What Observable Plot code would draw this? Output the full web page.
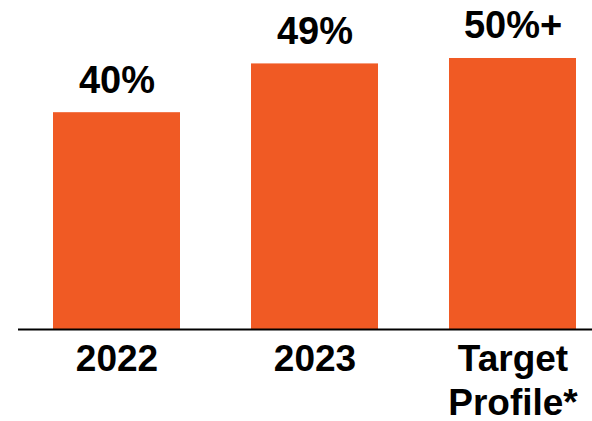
<!DOCTYPE html>
<html>
<head>
<meta charset="utf-8">
<script src="https://cdn.jsdelivr.net/npm/d3@7"></script>
<script src="https://cdn.jsdelivr.net/npm/@observablehq/plot@0.6"></script>
<style>
  html, body { margin: 0; padding: 0; background: #fff; }
  #chart svg { font-family: "Liberation Sans", Arial, sans-serif; }
</style>
</head>
<body>
<div id="chart"></div>
<script>
const categories = ["2022", "2023", "Target Profile*"];
const values = [40, 49, 50];
const valueLabels = ["40%", "49%", "50%+"];
const tickLabels = ["2022", "2023", "Target\nProfile*"];

const data = categories.map((c, i) => ({category: c, value: values[i], label: valueLabels[i]}));

const chart = Plot.plot({
  width: 592,
  height: 421,
  marginTop: 0,
  marginBottom: 92,
  marginLeft: 18,
  marginRight: 0,
  style: {background: "#fff", fontFamily: "'Liberation Sans', Arial, sans-serif", color: "#000"},
  x: {domain: categories, paddingInner: 0.36, paddingOuter: 0.126, align: 0.68, axis: null},
  y: {domain: [0, 60.7], axis: null},
  marks: [
    Plot.barY(data, {x: "category", y: "value", fill: "#F05A24"}),
    Plot.ruleY([0], {stroke: "#000", strokeWidth: 2}),
    Plot.text(data, {x: "category", y: "value", text: "label", lineAnchor: "bottom", dy: -20, fontSize: 38, fontWeight: "bold", fill: "#000"}),
    Plot.axisX({
      tickSize: 0,
      tickPadding: 11,
      fontSize: 37,
      fontWeight: "bold",
      lineHeight: 1.17,
      label: null,
      fill: "#000",
      tickFormat: d => tickLabels[categories.indexOf(d)]
    })
  ]
});
document.getElementById("chart").appendChild(chart);
</script>
</body>
</html>
